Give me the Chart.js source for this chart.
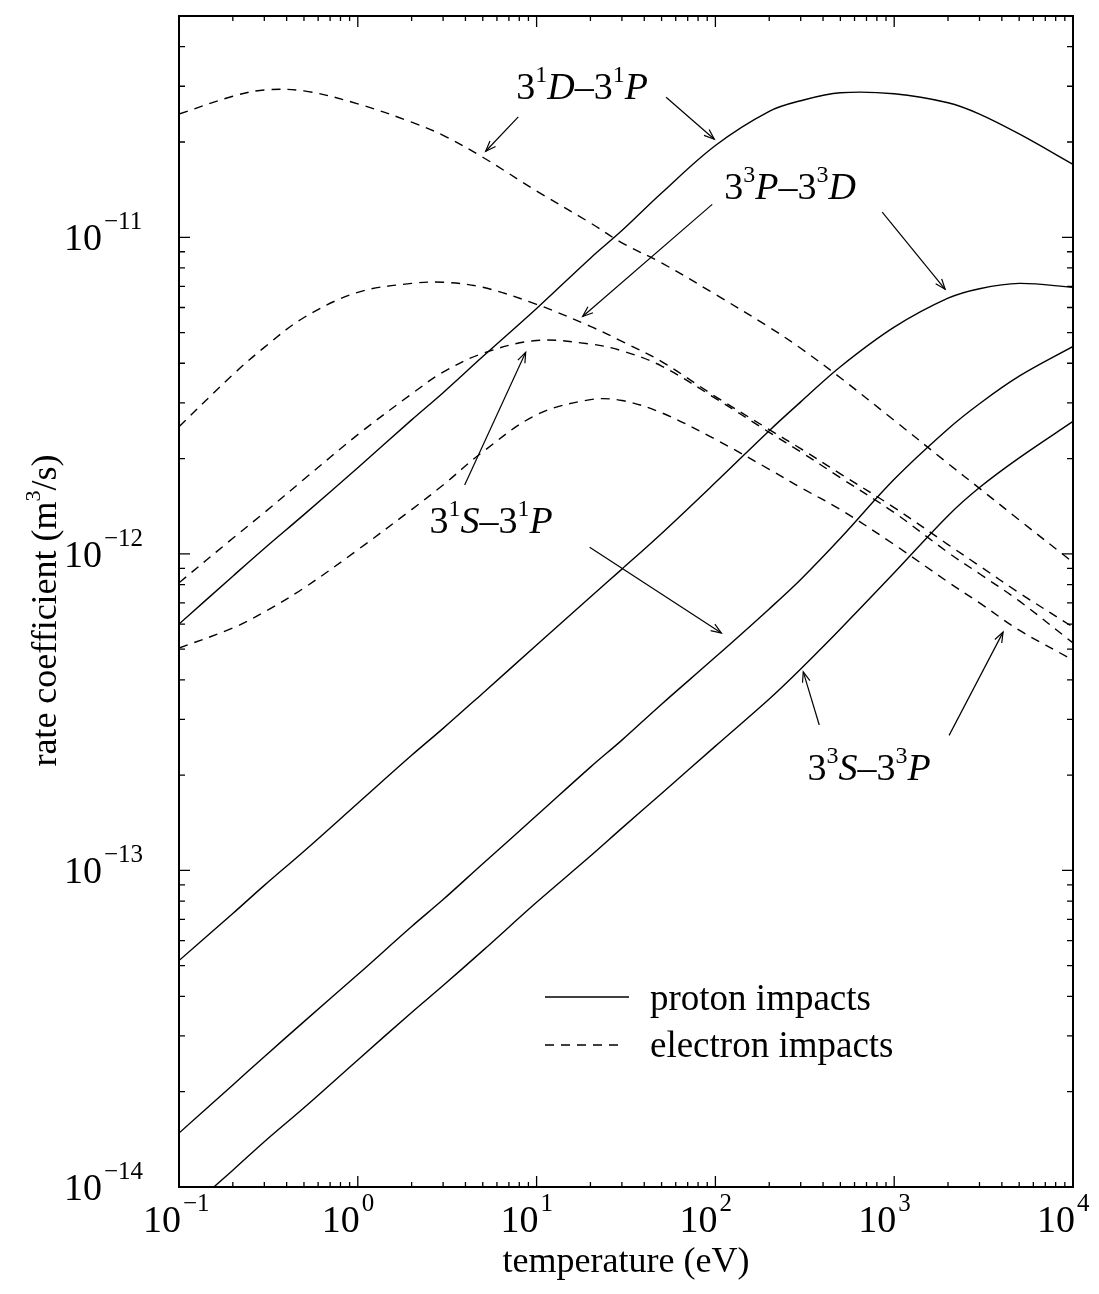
<!DOCTYPE html>
<html>
<head>
<meta charset="utf-8">
<script src="https://cdn.jsdelivr.net/npm/chart.js@4.4.1/dist/chart.umd.min.js"></script>
<style>
  html, body { margin: 0; padding: 0; background: #fff; }
  #wrap { width: 1099px; height: 1294px; }
</style>
</head>
<body>
<div id="wrap"><canvas id="myChart" width="1099" height="1294"></canvas></div>
<script>
// temperature grid (eV)
var t_eV = [0.1, 0.2, 0.3, 0.5, 1, 2, 3, 5, 10, 20, 30, 50, 100, 200, 300, 500, 1000, 2000, 3000, 5000, 10000];

// proton impacts (solid), m^3/s
var p_1D1P = [6.0e-13, 8.5e-13, 1.04e-12, 1.33e-12, 1.87e-12, 2.65e-12, 3.23e-12, 4.20e-12, 5.96e-12, 8.59e-12, 1.05e-11, 1.38e-11, 1.95e-11, 2.50e-11, 2.70e-11, 2.86e-11, 2.84e-11, 2.66e-11, 2.45e-11, 2.12e-11, 1.70e-11];
var p_3P3D = [5.19e-14, 7.31e-14, 8.97e-14, 1.15e-13, 1.63e-13, 2.31e-13, 2.81e-13, 3.63e-13, 5.15e-13, 7.31e-13, 8.95e-13, 1.16e-12, 1.68e-12, 2.45e-12, 3.02e-12, 3.90e-12, 5.20e-12, 6.42e-12, 6.88e-12, 7.15e-12, 6.95e-12];
var p_1S1P = [1.48e-14, 2.10e-14, 2.58e-14, 3.33e-14, 4.69e-14, 6.65e-14, 8.09e-14, 1.05e-13, 1.49e-13, 2.12e-13, 2.58e-13, 3.35e-13, 4.72e-13, 6.70e-13, 8.30e-13, 1.12e-12, 1.72e-12, 2.48e-12, 2.98e-12, 3.64e-12, 4.52e-12];
var p_3S3P = [8.0e-15, 1.13e-14, 1.39e-14, 1.78e-14, 2.52e-14, 3.56e-14, 4.33e-14, 5.58e-14, 7.93e-14, 1.11e-13, 1.36e-13, 1.75e-13, 2.47e-13, 3.48e-13, 4.33e-13, 5.79e-13, 8.71e-13, 1.32e-12, 1.62e-12, 2.01e-12, 2.62e-12];

// electron impacts (dashed)
var e_1D1P = [2.45e-11, 2.79e-11, 2.92e-11, 2.90e-11, 2.64e-11, 2.31e-11, 2.10e-11, 1.79e-11, 1.40e-11, 1.11e-11, 9.6e-12, 8.3e-12, 6.6e-12, 5.2e-12, 4.46e-12, 3.60e-12, 2.64e-12, 1.93e-12, 1.61e-12, 1.28e-12, 9.4e-13];
var e_3P3D = [2.52e-12, 3.68e-12, 4.49e-12, 5.58e-12, 6.70e-12, 7.15e-12, 7.21e-12, 6.95e-12, 6.14e-12, 5.23e-12, 4.69e-12, 4.05e-12, 3.14e-12, 2.47e-12, 2.15e-12, 1.79e-12, 1.40e-12, 1.07e-12, 9.16e-13, 7.53e-13, 5.87e-13];
var e_1S1P = [8.1e-13, 1.12e-12, 1.35e-12, 1.72e-12, 2.38e-12, 3.2e-12, 3.75e-12, 4.3e-12, 4.72e-12, 4.6e-12, 4.38e-12, 3.92e-12, 3.1e-12, 2.42e-12, 2.1e-12, 1.74e-12, 1.35e-12, 1.01e-12, 8.65e-13, 7.1e-13, 5.23e-13];
var e_3S3P = [5.04e-13, 5.83e-13, 6.55e-13, 7.80e-13, 1.03e-12, 1.38e-12, 1.65e-12, 2.10e-12, 2.75e-12, 3.07e-12, 3.05e-12, 2.79e-12, 2.30e-12, 1.85e-12, 1.62e-12, 1.38e-12, 1.07e-12, 8.15e-13, 7.00e-13, 5.74e-13, 4.62e-13];

// axis decades (tick labels are 10^exp)
var xTickExps = [-1, 0, 1, 2, 3, 4];
var yTickExps = [-14, -13, -12, -11];

var legendNames = ['proton impacts', 'electron impacts'];

var SERIF = '"Liberation Serif", "DejaVu Serif", serif';

function pts(arr){
  return t_eV.map(function(t, i){ return {x: t, y: arr[i]}; });
}
function serie(label, arr, dashed){
  return {
    label: label,
    data: pts(arr),
    borderColor: '#000',
    borderWidth: 1.4,
    borderDash: dashed ? [9, 7] : [],
    fill: false,
    pointRadius: 0,
    tension: 0.35
  };
}

// pieces of text: t = text, s = superscript, i = italic
function lbl(a, b, c, d){
  return [{t:'3'},{t:a,s:true},{t:b,i:true},{t:'\u2013'},{t:'3'},{t:c,s:true},{t:d,i:true}];
}
var notes = [
  {parts: lbl('1','D','1','P'), at: [7.7, 2.73e-11],
   arrows: [[7.9, 2.40e-11, 5.19, 1.87e-11], [53, 2.77e-11, 98.6, 2.04e-11]]},
  {parts: lbl('3','P','3','D'), at: [112, 1.32e-11],
   arrows: [[96, 1.27e-11, 18.1, 5.62e-12], [857, 1.20e-11, 1928, 6.85e-12]]},
  {parts: lbl('1','S','1','P'), at: [2.52, 1.16e-12],
   arrows: [[3.96, 1.65e-12, 8.69, 4.33e-12], [19.8, 1.05e-12, 108, 5.62e-13]]},
  {parts: lbl('3','S','3','P'), at: [327, 1.93e-13],
   arrows: [[381, 2.88e-13, 310, 4.24e-13], [2028, 2.67e-13, 4064, 5.66e-13]]}
];

function partsWidth(ctx, parts, size){
  var w = 0;
  parts.forEach(function(p){
    var fs = p.s ? Math.round(size * 0.62) : size;
    ctx.font = (p.i ? 'italic ' : '') + fs + 'px ' + SERIF;
    w += ctx.measureText(p.t).width;
  });
  return w;
}
function drawParts(ctx, parts, x, y, size){
  var cx = x;
  ctx.textAlign = 'left';
  ctx.textBaseline = 'alphabetic';
  parts.forEach(function(p){
    var fs = p.s ? Math.round(size * 0.62) : size;
    ctx.font = (p.i ? 'italic ' : '') + fs + 'px ' + SERIF;
    ctx.fillText(p.t, cx, p.s ? y - size * 0.45 : y);
    cx += ctx.measureText(p.t).width;
  });
}
function arrow(ctx, x1, y1, x2, y2){
  ctx.beginPath(); ctx.moveTo(x1, y1); ctx.lineTo(x2, y2); ctx.stroke();
  var a = Math.atan2(y2 - y1, x2 - x1), L = 11, w = 0.36;
  ctx.beginPath();
  ctx.moveTo(x2 - L * Math.cos(a - w), y2 - L * Math.sin(a - w));
  ctx.lineTo(x2, y2);
  ctx.lineTo(x2 - L * Math.cos(a + w), y2 - L * Math.sin(a + w));
  ctx.stroke();
}

var framePlugin = {
  id: 'frame',
  afterDatasetsDraw: function(chart){
    var ctx = chart.ctx, ca = chart.chartArea;
    var xs = chart.scales.x, ys = chart.scales.y;
    ctx.save();
    ctx.fillStyle = '#000';
    ctx.strokeStyle = '#000';

    // box
    ctx.lineWidth = 2;
    ctx.strokeRect(ca.left, ca.top, ca.right - ca.left, ca.bottom - ca.top);

    // inward ticks on all four sides
    ctx.lineWidth = 1.3;
    ctx.beginPath();
    xTickExps.forEach(function(e, k){
      for (var m = 1; m <= 9; m++){
        if (k === xTickExps.length - 1 && m > 1) break;
        var px = xs.getPixelForValue(m * Math.pow(10, e));
        var len = m === 1 ? 11 : 5;
        ctx.moveTo(px, ca.bottom); ctx.lineTo(px, ca.bottom - len);
        ctx.moveTo(px, ca.top); ctx.lineTo(px, ca.top + len);
      }
    });
    yTickExps.forEach(function(e){
      for (var m = 1; m <= 9; m++){
        var v = m * Math.pow(10, e);
        if (v > ys.max * 1.0001) break;
        var py = ys.getPixelForValue(v);
        var len = m === 1 ? 11 : 6;
        ctx.moveTo(ca.left, py); ctx.lineTo(ca.left + len, py);
        ctx.moveTo(ca.right, py); ctx.lineTo(ca.right - len, py);
      }
    });
    ctx.stroke();

    // tick labels 10^n
    ctx.textBaseline = 'alphabetic';
    xTickExps.forEach(function(e){
      var px = xs.getPixelForValue(Math.pow(10, e));
      var by = ca.bottom + 45;
      ctx.font = '38px ' + SERIF; ctx.textAlign = 'right';
      ctx.fillText('10', px + 2, by);
      ctx.font = '25px ' + SERIF; ctx.textAlign = 'left';
      ctx.fillText(String(e).replace('-', '\u2212'), px + 4, by - 21);
    });
    yTickExps.forEach(function(e){
      var py = ys.getPixelForValue(Math.pow(10, e));
      ctx.font = '38px ' + SERIF; ctx.textAlign = 'right';
      ctx.fillText('10', ca.left - 77, py + 13);
      ctx.font = '25px ' + SERIF; ctx.textAlign = 'left';
      ctx.fillText(String(e).replace('-', '\u2212'), ca.left - 75, py - 8);
    });

    // axis titles
    ctx.font = '36px ' + SERIF; ctx.textAlign = 'center';
    ctx.fillText('temperature (eV)', (ca.left + ca.right) / 2, ca.bottom + 85);
    var yt = [{t:'rate coefficient (m'},{t:'3',s:true},{t:'/s)'}];
    var w = partsWidth(ctx, yt, 36);
    ctx.save();
    ctx.translate(56, (ca.top + ca.bottom) / 2 + 9);
    ctx.rotate(-Math.PI / 2);
    drawParts(ctx, yt, -w / 2, 0, 36);
    ctx.restore();

    // curve labels and arrows
    ctx.lineWidth = 1.2;
    notes.forEach(function(n){
      drawParts(ctx, n.parts, xs.getPixelForValue(n.at[0]), ys.getPixelForValue(n.at[1]), 38);
      n.arrows.forEach(function(a){
        arrow(ctx, xs.getPixelForValue(a[0]), ys.getPixelForValue(a[1]),
                   xs.getPixelForValue(a[2]), ys.getPixelForValue(a[3]));
      });
    });

    // legend
    var lx = ca.left + 366, ly = ca.bottom - 190;
    ctx.lineWidth = 1.4;
    ctx.beginPath(); ctx.moveTo(lx, ly); ctx.lineTo(lx + 84, ly); ctx.stroke();
    ctx.setLineDash([9, 7]);
    ctx.beginPath(); ctx.moveTo(lx, ly + 48); ctx.lineTo(lx + 80, ly + 48); ctx.stroke();
    ctx.setLineDash([]);
    ctx.font = '37px ' + SERIF; ctx.textAlign = 'left';
    ctx.fillText(legendNames[0], lx + 105, ly + 13);
    ctx.fillText(legendNames[1], lx + 105, ly + 60);

    ctx.restore();
  }
};

var data1 = {
  datasets: [
    serie('3\u00B9D\u20133\u00B9P proton', p_1D1P, false),
    serie('3\u00B3P\u20133\u00B3D proton', p_3P3D, false),
    serie('3\u00B9S\u20133\u00B9P proton', p_1S1P, false),
    serie('3\u00B3S\u20133\u00B3P proton', p_3S3P, false),
    serie('3\u00B9D\u20133\u00B9P electron', e_1D1P, true),
    serie('3\u00B3P\u20133\u00B3D electron', e_3P3D, true),
    serie('3\u00B9S\u20133\u00B9P electron', e_1S1P, true),
    serie('3\u00B3S\u20133\u00B3P electron', e_3S3P, true)
  ]
};

var config1 = {
  type: 'line',
  data: data1,
  options: {
    responsive: false,
    animation: false,
    layout: { padding: { left: 179, right: 26, top: 16, bottom: 107 } },
    plugins: { legend: { display: false }, tooltip: { enabled: false } },
    scales: {
      x: { type: 'logarithmic', min: 0.1, max: 10000, display: false },
      y: { type: 'logarithmic', min: 1e-14, max: 5e-11, display: false }
    }
  },
  plugins: [framePlugin]
};

var myChart1 = new Chart(document.getElementById('myChart'), config1);
</script>
</body>
</html>
